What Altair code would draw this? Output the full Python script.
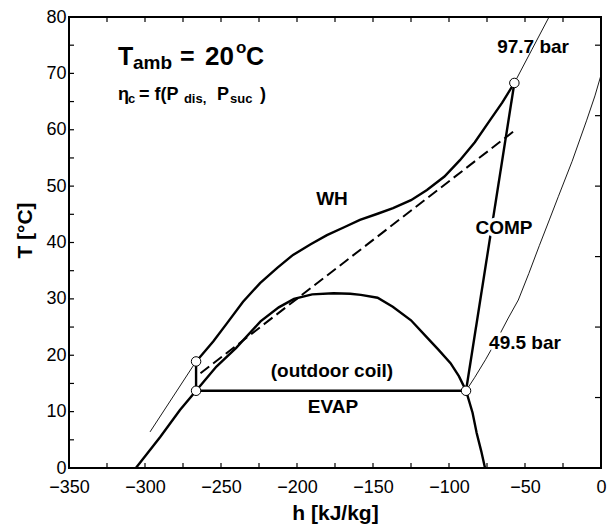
import altair as alt
import pandas as pd

# --- R744 saturation dome (liquid branch -> critical region -> vapour branch)
dome_h = [-306, -290, -277, -266.4, -253, -240, -224, -212, -202, -190, -176, -165,
          -158, -147, -137, -125, -115, -107, -99, -93.5, -88.8, -84.5, -81.8, -78.8, -76.3]
dome_T = [0, 5.5, 10.3, 13.7, 18.0, 21.3, 26.0, 28.5, 30.0, 30.8, 31.0, 30.9,
          30.7, 30.2, 28.6, 26.2, 23.3, 21.0, 18.6, 16.3, 13.7, 9.8, 6.2, 3.0, 0]

# --- water-heater (gas cooler) path at 97.7 bar
wh_h = [-266.4, -263.8, -255, -246, -235.5, -224.3, -213, -202.6, -191, -180.3, -169,
        -158.6, -147, -136.8, -125, -114.5, -103, -92.8, -83, -73, -65, -57]
wh_T = [18.9, 19.7, 22.5, 25.7, 29.5, 32.8, 35.5, 37.8, 39.7, 41.3, 42.7,
        44.0, 45.1, 46.1, 47.5, 49.3, 51.7, 54.6, 57.8, 61.7, 64.8, 68.3]

# --- evaporator, expansion and compression legs
evap_h = [-266.4, -88.8]
evap_T = [13.7, 13.7]
exp_h = [-266.4, -266.4]
exp_T = [13.7, 18.9]
comp_h = [-88.8, -57]
comp_T = [13.7, 68.3]

# --- water temperature (dashed)
water_h = [-263.5, -56.6]
water_T = [16.8, 59.9]

# --- isobars (thin)
iso97a_h = [-296.7, -266.4]
iso97a_T = [6.4, 18.9]
iso97b_h = [-57, -45.5, -34.2]
iso97b_T = [68.3, 74.2, 80.0]
iso49_h = [-88.8, -83, -76, -68, -61, -54.4, -47.5, -40.5, -34, -28, -19, -9.4, -4, 0]
iso49_T = [13.7, 16.1, 19.2, 23.0, 26.6, 29.8, 34.5, 39.5, 44.0, 48.2, 54.4, 61.7, 66.0, 69.7]

# --- cycle state points
state_h = [-266.4, -266.4, -88.8, -57]
state_T = [13.7, 18.9, 13.7, 68.3]

# --- tick positions on the four frame sides
x_ticks = [-325, -300, -275, -250, -225, -200, -175, -150, -125, -100, -75, -50, -25]
y_ticks_left = [5, 10, 15, 20, 25, 30, 35, 40, 45, 50, 55, 60, 65, 70, 75]
y_ticks_right = [12.5, 25, 37.5, 50, 62.5, 75]

# --- annotations
lab_text = ["WH", "COMP", "(outdoor coil)", "EVAP", "97.7 bar", "49.5 bar"]
lab_h = [-177, -63.8, -177, -176.3, -44.7, -50]
lab_T = [46.6, 41.5, 16.1, 9.76, 73.6, 21.05]
lab_halo = [False, True, False, False, False, True]

# heading pieces: main text, subscripts and superscript
head_text = ["T", "amb", "=", "20", "o", "C", "\u03b7", "c", "= f(P", "dis,", "P", "suc", ")"]
head_h = [-317.8, -307.9, -277, -260.5, -240.1, -233.5,
          -317.8, -311.2, -304.0, -274.4, -252.6, -244.1, -224.3]
head_T = [71.55, 70.84, 71.55, 71.55, 73.6, 71.55,
          65.28, 64.75, 65.28, 64.75, 65.28, 64.75, 65.28]
head_size = [25, 19, 25, 26, 17, 25, 18, 13, 18, 13, 18, 13, 18]


def seg(name, hs, ts):
    return pd.DataFrame({"h": hs, "T": ts, "curve": name, "idx": range(len(hs))})


bold = pd.concat([
    seg("dome", dome_h, dome_T),
    seg("wh", wh_h, wh_T),
    seg("evap", evap_h, evap_T),
    seg("exp", exp_h, exp_T),
    seg("comp", comp_h, comp_T),
])
thin = pd.concat([
    seg("p97a", iso97a_h, iso97a_T),
    seg("p97b", iso97b_h, iso97b_T),
    seg("p49", iso49_h, iso49_T),
])
dashed = seg("water", water_h, water_T)
states = pd.DataFrame({"h": state_h, "T": state_T})
labels = pd.DataFrame({"h": lab_h, "T": lab_T, "text": lab_text, "halo": lab_halo})
heading = pd.DataFrame({"h": head_h, "T": head_T, "text": head_text, "size": head_size})

FONT = "Liberation Sans"
xs = alt.Scale(domain=[-350, 0], nice=False, zero=False)
ys = alt.Scale(domain=[0, 80], nice=False, zero=False)

x_axis = alt.Axis(values=[-350, -300, -250, -200, -150, -100, -50, 0], title="h [kJ/kg]",
                  labelPadding=10, titlePadding=6, format="d",
                  labelFlush=False, labelOverlap=False)
y_axis = alt.Axis(values=[0, 10, 20, 30, 40, 50, 60, 70, 80], title="T [\u00b0C]",
                  labelPadding=3, titlePadding=10, format="d",
                  labelFlush=False, labelOverlap=False, titleY=213)

X = alt.X("h:Q", scale=xs, axis=x_axis)
Y = alt.Y("T:Q", scale=ys, axis=y_axis)

bold_layer = alt.Chart(bold).mark_line(color="black", strokeWidth=2.4, clip=True).encode(
    x=X, y=Y, detail="curve:N", order="idx:Q")
thin_layer = alt.Chart(thin).mark_line(color="black", strokeWidth=0.9, clip=True).encode(
    x=X, y=Y, detail="curve:N", order="idx:Q")
dash_layer = alt.Chart(dashed).mark_line(color="black", strokeWidth=2, strokeDash=[11, 5]).encode(
    x=X, y=Y, order="idx:Q")
state_layer = alt.Chart(states).mark_point(shape="circle", filled=True, fill="white",
                                            stroke="black", strokeWidth=1, size=90,
                                            opacity=1).encode(x=X, y=Y)

halo_layer = alt.Chart(labels).transform_filter("datum.halo").mark_text(
    font=FONT, fontSize=19, fontWeight="bold", stroke="white", strokeWidth=7,
    align="center", baseline="alphabetic").encode(x=X, y=Y, text="text:N")
label_layer = alt.Chart(labels).mark_text(
    font=FONT, fontSize=19, fontWeight="bold", color="black",
    align="center", baseline="alphabetic").encode(x=X, y=Y, text="text:N")
head_layer = alt.Chart(heading).mark_text(
    font=FONT, fontWeight="bold", color="black", align="left", baseline="alphabetic").encode(
    x=X, y=Y, text="text:N", size=alt.Size("size:Q", scale=None, legend=None))

# inward ticks on all four sides of the frame
tb = pd.DataFrame({"h": x_ticks})
tl = pd.DataFrame({"T": y_ticks_left})
tr = pd.DataFrame({"T": y_ticks_right})
tick_kw = dict(color="black", strokeWidth=1.2)
ticks_bottom = alt.Chart(tb).mark_rule(**tick_kw).encode(x=X, y=alt.value(451), y2=alt.value(446))
ticks_top = alt.Chart(tb).mark_rule(**tick_kw).encode(x=X, y=alt.value(0), y2=alt.value(5))
ticks_left = alt.Chart(tl).mark_rule(**tick_kw).encode(y=Y, x=alt.value(0), x2=alt.value(5))
ticks_right = alt.Chart(tr).mark_rule(**tick_kw).encode(y=Y, x=alt.value(532), x2=alt.value(526))

chart = alt.layer(
    bold_layer, thin_layer, dash_layer,
    ticks_bottom, ticks_top, ticks_left, ticks_right,
    halo_layer, label_layer, head_layer, state_layer,
).properties(
    width=532, height=451,
    autosize=alt.AutoSizeParams(type="none"),
    padding={"left": 69, "top": 17, "right": 6, "bottom": 63},
    background="white",
).configure_view(
    stroke="black", strokeWidth=2
).configure_axis(
    labelFont=FONT, labelFontSize=18, labelColor="black",
    titleFont=FONT, titleFontSize=21, titleFontWeight="bold", titleColor="black",
    domain=False, ticks=False, grid=False,
)

chart.save("out.html", embed_options={"renderer": "svg", "actions": False})
